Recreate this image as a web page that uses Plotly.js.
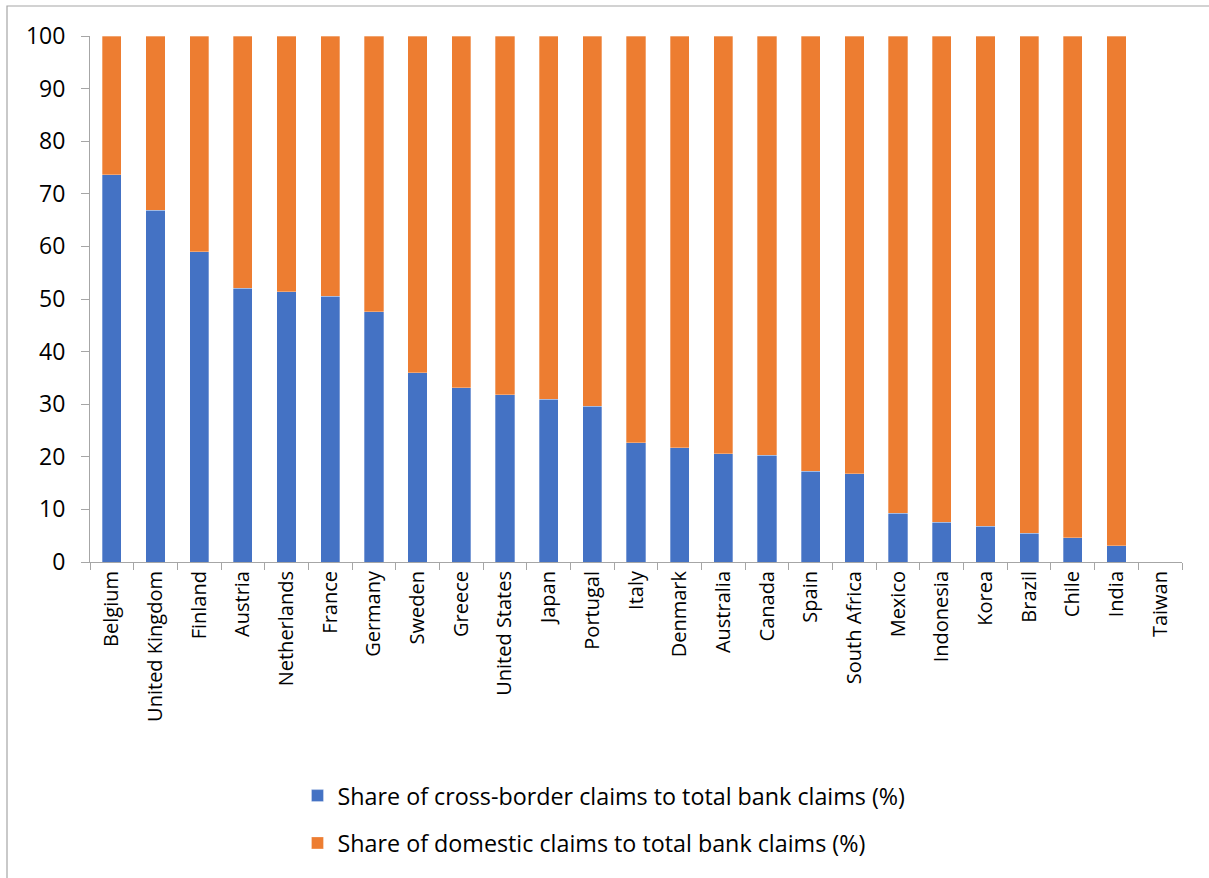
<!DOCTYPE html>
<html>
<head>
<meta charset="utf-8">
<script src="https://cdn.plot.ly/plotly-3.0.1.min.js"></script>
<style>
  html, body { margin: 0; padding: 0; background: #ffffff; }
  #chart { width: 1209px; height: 878px; }
</style>
</head>
<body>
<div id="chart"></div>
<script>
// Countries, ordered by share of cross-border claims
const countries = [
  "Belgium", "United Kingdom", "Finland", "Austria", "Netherlands", "France",
  "Germany", "Sweden", "Greece", "United States", "Japan", "Portugal",
  "Italy", "Denmark", "Australia", "Canada", "Spain", "South Africa",
  "Mexico", "Indonesia", "Korea", "Brazil", "Chile", "India", "Taiwan"
];

// Share of cross-border claims to total bank claims (%)
const crossBorder = [
  73.6, 66.9, 59.0, 52.0, 51.4, 50.5,
  47.6, 36.0, 33.1, 31.8, 30.9, 29.6,
  22.7, 21.7, 20.6, 20.3, 17.3, 16.8,
  9.3, 7.6, 6.8, 5.5, 4.6, 3.1, null
];

// Share of domestic claims to total bank claims (%)
const domestic = [
  26.4, 33.1, 41.0, 48.0, 48.6, 49.5,
  52.4, 64.0, 66.9, 68.2, 69.1, 70.4,
  77.3, 78.3, 79.4, 79.7, 82.7, 83.2,
  90.7, 92.4, 93.2, 94.5, 95.4, 96.9, null
];

const seriesNames = [
  "Share of cross-border claims to total bank claims (%)",
  "Share of domestic claims to total bank claims (%)"
];

const font = "'Open Sans', sans-serif";
const axisGray = "#a6a6a6";

const traces = [
  {
    type: "bar",
    name: seriesNames[0],
    x: countries,
    y: crossBorder,
    legendgroup: "a",
    marker: { color: "#4472C4", line: { color: "rgba(255,255,255,0.5)", width: 0.6 } },
    hoverinfo: "x+y"
  },
  {
    type: "bar",
    name: seriesNames[1],
    x: countries,
    y: domestic,
    legendgroup: "b",
    marker: { color: "#ED7D31", line: { color: "rgba(255,255,255,0.5)", width: 0.6 } },
    hoverinfo: "x+y"
  }
];

const layout = {
  width: 1209,
  height: 878,
  paper_bgcolor: "#ffffff",
  plot_bgcolor: "#ffffff",
  barmode: "stack",
  bargap: 0.56,
  margin: { l: 90, r: 27, t: 36, b: 316, pad: 0 },
  font: { family: font, color: "#000000", size: 20 },
  showlegend: true,
  legend: {
    orientation: "v",
    traceorder: "grouped",
    tracegroupgap: 14,
    x: 0.19,
    xanchor: "left",
    y: -0.403,
    yanchor: "top",
    font: { family: font, size: 23.3, color: "#000000" },
    bgcolor: "rgba(0,0,0,0)"
  },
  xaxis: {
    type: "category",
    tickangle: -90,
    ticks: "outside",
    tickson: "boundaries",
    ticklen: 7,
    tickcolor: axisGray,
    showline: true,
    linecolor: axisGray,
    linewidth: 1,
    showgrid: false,
    zeroline: false,
    tickfont: { family: font, size: 20, color: "#000000" }
  },
  yaxis: {
    range: [0, 100],
    dtick: 10,
    ticks: "outside",
    ticklen: 8,
    tickcolor: axisGray,
    showline: true,
    linecolor: axisGray,
    linewidth: 1,
    showgrid: false,
    zeroline: false,
    ticklabelstandoff: 11,
    tickfont: { family: font, size: 23, color: "#000000" }
  },
  shapes: [
    {
      type: "rect",
      xref: "paper",
      yref: "paper",
      x0: (7 - 90) / 1092,
      x1: (1240 - 90) / 1092,
      y0: (562 - 900) / 526,
      y1: (562 - 6) / 526,
      line: { color: "#a6a6a6", width: 1.2 },
      fillcolor: "rgba(0,0,0,0)",
      layer: "below"
    }
  ]
};

Plotly.newPlot("chart", traces, layout, { displayModeBar: false, staticPlot: true });
</script>
</body>
</html>
